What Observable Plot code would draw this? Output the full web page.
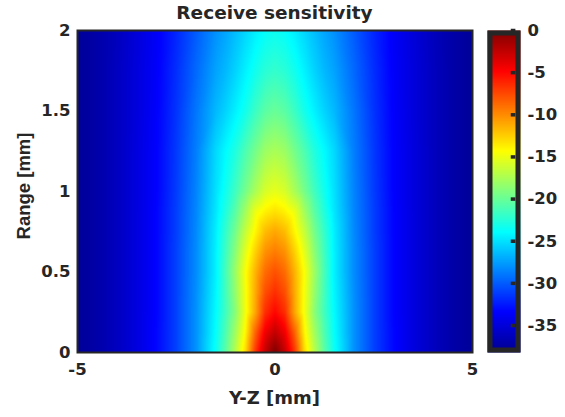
<!DOCTYPE html>
<html>
<head>
<meta charset="utf-8">
<script src="https://cdn.jsdelivr.net/npm/d3@7"></script>
<script src="https://cdn.jsdelivr.net/npm/@observablehq/plot@0.6"></script>
<style>
  html, body { margin: 0; padding: 0; background: #fff; }
  #wrap { position: relative; width: 565px; height: 417px; overflow: hidden; background: #fff; }
  #wrap svg { position: absolute; left: 0; top: 0; }
  .lbl { position: absolute; color: #262626; font-weight: bold; white-space: nowrap; }
</style>
</head>
<body>
<div id="wrap"></div>
<script>
// ---- Data (dB) ----
const yzMM = [-5, -4.5, -4, -3.5, -3, -2.5, -2, -1.5, -1.25, -1, -0.75, -0.5, -0.25, 0,
              0.25, 0.5, 0.75, 1, 1.25, 1.5, 2, 2.5, 3, 3.5, 4, 4.5, 5];
const rangeMM = [0, 0.125, 0.25, 0.375, 0.5, 0.625, 0.75, 0.875, 1, 1.25, 1.5, 1.75, 2];
// one row per range value, one column per Y-Z value
const sensitivityDb = [
  [-37.8,-37.1,-36.1,-34.8,-33.2,-31.0,-28.0,-23.5,-20.5,-17.0,-13.0,-6.8,-2.5,0.0,-2.5,-6.8,-13.0,-17.0,-20.5,-23.5,-28.0,-31.0,-33.2,-34.8,-36.1,-37.1,-37.8],
  [-37.8,-37.1,-36.1,-34.8,-33.2,-31.0,-28.0,-23.8,-21.0,-17.8,-14.0,-8.5,-4.3,-2.5,-4.3,-8.5,-14.0,-17.8,-21.0,-23.8,-28.0,-31.0,-33.2,-34.8,-36.1,-37.1,-37.8],
  [-37.8,-37.1,-36.1,-34.8,-33.3,-31.0,-28.0,-24.0,-21.5,-18.7,-14.8,-11.0,-6.5,-5.0,-6.5,-11.0,-14.8,-18.7,-21.5,-24.0,-28.0,-31.0,-33.3,-34.8,-36.1,-37.1,-37.8],
  [-37.8,-37.1,-36.1,-34.8,-33.3,-31.0,-28.1,-24.2,-21.4,-18.3,-14.7,-11.2,-7.7,-6.5,-7.7,-11.2,-14.7,-18.3,-21.4,-24.2,-28.1,-31.0,-33.3,-34.8,-36.1,-37.1,-37.8],
  [-37.8,-37.1,-36.1,-34.8,-33.3,-31.0,-28.2,-24.4,-21.3,-18.0,-14.5,-11.5,-8.8,-7.8,-8.8,-11.5,-14.5,-18.0,-21.3,-24.4,-28.2,-31.0,-33.3,-34.8,-36.1,-37.1,-37.8],
  [-37.8,-37.1,-36.1,-34.8,-33.3,-31.0,-28.2,-24.4,-21.6,-18.7,-15.4,-12.6,-10.2,-9.4,-10.2,-12.6,-15.4,-18.7,-21.6,-24.4,-28.2,-31.0,-33.3,-34.8,-36.1,-37.1,-37.8],
  [-37.8,-37.1,-36.1,-34.8,-33.3,-31.1,-28.3,-24.5,-22.0,-19.5,-16.5,-14.0,-11.8,-11.0,-11.8,-14.0,-16.5,-19.5,-22.0,-24.5,-28.3,-31.1,-33.3,-34.8,-36.1,-37.1,-37.8],
  [-37.8,-37.1,-36.1,-34.8,-33.3,-31.1,-28.4,-24.8,-22.7,-20.5,-17.8,-15.0,-13.8,-13.2,-13.8,-15.0,-17.8,-20.5,-22.7,-24.8,-28.4,-31.1,-33.3,-34.8,-36.1,-37.1,-37.8],
  [-37.8,-37.1,-36.1,-34.8,-33.4,-31.2,-28.5,-25.0,-23.3,-21.5,-19.5,-17.5,-15.8,-15.2,-15.8,-17.5,-19.5,-21.5,-23.3,-25.0,-28.5,-31.2,-33.4,-34.8,-36.1,-37.1,-37.8],
  [-37.8,-37.1,-36.1,-34.8,-33.4,-31.3,-28.7,-25.3,-24.0,-22.7,-21.0,-19.5,-18.0,-17.5,-18.0,-19.5,-21.0,-22.7,-24.0,-25.3,-28.7,-31.3,-33.4,-34.8,-36.1,-37.1,-37.8],
  [-37.8,-37.1,-36.1,-34.9,-33.5,-31.5,-29.0,-26.5,-25.5,-24.4,-23.2,-21.7,-20.5,-20.0,-20.5,-21.7,-23.2,-24.4,-25.5,-26.5,-29.0,-31.5,-33.5,-34.9,-36.1,-37.1,-37.8],
  [-37.8,-37.1,-36.1,-34.9,-33.6,-31.7,-29.5,-27.3,-26.5,-25.5,-24.4,-23.3,-22.4,-22.0,-22.4,-23.3,-24.4,-25.5,-26.5,-27.3,-29.5,-31.7,-33.6,-34.9,-36.1,-37.1,-37.8],
  [-37.8,-37.1,-36.2,-35.0,-33.7,-32.0,-30.0,-28.0,-27.2,-26.3,-25.4,-24.5,-23.8,-23.5,-23.8,-24.5,-25.4,-26.3,-27.2,-28.0,-30.0,-32.0,-33.7,-35.0,-36.2,-37.1,-37.8]
];
const xTicks = [-5, 0, 5];
const yTicks = [0, 0.5, 1, 1.5, 2];
const cbTicks = [-35, -30, -25, -20, -15, -10, -5, 0];
const cbLimits = [-38.2, 0];

// jet colormap anchors
const jetStops = [-38.2, -33.4, -23.9, -14.3, -4.8, 0];
const jetColors = ["#00008f", "#0000ff", "#00ffff", "#ffff00", "#ff0000", "#800000"];

const grid = rangeMM.flatMap((r, i) => yzMM.map((x, j) => ({x, y: r, v: sensitivityDb[i][j]})));

const ink = "#262626";
const colorScale = {type: "linear", domain: jetStops, range: jetColors, interpolate: "rgb"};

const main = Plot.plot({
  width: 565, height: 417,
  marginLeft: 77, marginRight: 93, marginTop: 30, marginBottom: 65,
  style: {fontFamily: "'DejaVu Sans', sans-serif", fontWeight: "bold", fontSize: "16.5px", color: ink, background: "transparent", overflow: "visible"},
  x: {domain: [-5, 5], ticks: xTicks, tickFormat: d => String(d), tickSize: 0, tickPadding: 11, label: null},
  y: {domain: [0, 2], ticks: yTicks, tickFormat: d => String(d), tickSize: 0, tickPadding: 7, label: null},
  color: colorScale,
  marks: [
    Plot.raster(grid, {x: "x", y: "y", fill: "v", interpolate: "barycentric", x1: -5, x2: 5, y1: 0, y2: 2}),
    Plot.frame({stroke: ink, strokeWidth: 2})
  ]
});

const cbar = Plot.plot({
  width: 565, height: 417,
  marginLeft: 487, marginRight: 45, marginTop: 30, marginBottom: 65,
  style: {fontFamily: "'DejaVu Sans', sans-serif", fontWeight: "bold", fontSize: "16.5px", color: ink, background: "transparent", overflow: "visible"},
  x: {domain: [0, 1], axis: null},
  y: {domain: cbLimits, ticks: cbTicks, tickFormat: d => String(d), tickSize: 0, tickPadding: 7, axis: "right", label: null},
  color: colorScale,
  marks: [
    Plot.raster({fill: (x, y) => y, x1: 0, x2: 1, y1: cbLimits[0], y2: cbLimits[1]}),
    Plot.ruleY(cbTicks, {x1: 0.72, x2: 0.86, stroke: ink, strokeWidth: 3.5}),
    Plot.frame({stroke: ink, strokeWidth: 5, inset: 2.5})
  ]
});

const wrap = document.getElementById("wrap");
wrap.appendChild(main);
wrap.appendChild(cbar);

function label(text, css) {
  const d = document.createElement("div");
  d.className = "lbl";
  d.textContent = text;
  Object.assign(d.style, css);
  wrap.appendChild(d);
  return d;
}
label("Receive sensitivity", {left: "274.5px", top: "2px", transform: "translateX(-50%)", fontFamily: "'DejaVu Sans', sans-serif", fontSize: "18.5px"});
label("Y-Z [mm]", {left: "274.5px", top: "387px", transform: "translateX(-50%)", fontFamily: "'DejaVu Sans', sans-serif", fontSize: "18px"});
label("Range [mm]", {left: "24px", top: "186px", transform: "translate(-50%,-50%) rotate(-90deg)", fontFamily: "'Liberation Sans', Arial, sans-serif", fontSize: "18.5px"});
</script>
</body>
</html>
